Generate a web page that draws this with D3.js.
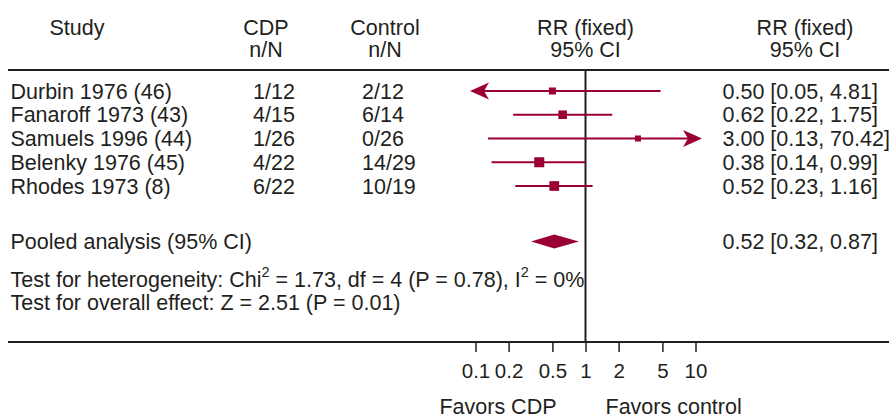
<!DOCTYPE html>
<html>
<head>
<meta charset="utf-8">
<script src="https://cdn.jsdelivr.net/npm/d3@7/dist/d3.min.js"></script>
<style>
  html, body { margin: 0; padding: 0; background: #fff; }
  svg text { font-family: "Liberation Sans", Arial, Helvetica, sans-serif; fill: #231f20; }
</style>
</head>
<body>
<svg id="chart" width="889" height="419"></svg>
<script>
// Trial data: relative risk of the outcome, CDP vs control
const studies = ["Durbin 1976 (46)", "Fanaroff 1973 (43)", "Samuels 1996 (44)", "Belenky 1976 (45)", "Rhodes 1973 (8)"];
const cdpCounts = ["1/12", "4/15", "1/26", "4/22", "6/22"];
const controlCounts = ["2/12", "6/14", "0/26", "14/29", "10/19"];
const rr = [0.50, 0.62, 3.00, 0.38, 0.52];
const rrLower = [0.05, 0.22, 0.13, 0.14, 0.23];
const rrUpper = [4.81, 1.75, 70.42, 0.99, 1.16];
const weights = [6.3, 19.7, 1.6, 38.3, 34.1];

const pooled = { label: "Pooled analysis (95% CI)", rr: 0.52, lower: 0.32, upper: 0.87 };

const tickValues = [0.1, 0.2, 0.5, 1, 2, 5, 10];
const tickLabels = ["0.1", "0.2", "0.5", "1", "2", "5", "10"];

const headers = {
  study: ["Study"],
  cdp: ["CDP", "n/N"],
  control: ["Control", "n/N"],
  plot: ["RR (fixed)", "95% CI"],
  est: ["RR (fixed)", "95% CI"]
};

const fmt = d3.format(".2f");

const RED = "#9b0032";
const INK = "#231f20";
const FS = 21.5;

const svg = d3.select("#chart");

// Layout
const rowY0 = 91, rowStep = 23.75;
const topRule = 70, axisY = 342;
const colStudy = 10.5, colCdp = 253, colCtrl = 362, colEst = 722.5;

const x = d3.scaleLog().domain([0.1, 10]).range([475.5, 695.5]);
const xLeft = x(0.1) - 5.5, xRight = x(10) + 6.5; // visible plotting limits
const clampX = v => Math.max(xLeft, Math.min(xRight, x(v)));

const size = d3.scaleSqrt().domain(d3.extent(weights)).range([6, 10]);

// Column headers
function header(lines, cx, anchor) {
  const t = svg.append("text").attr("text-anchor", anchor).attr("font-size", FS);
  lines.forEach((s, i) => t.append("tspan").attr("x", cx).attr("y", 35 + i * 22).text(s));
}
header(headers.study, 77, "middle");
header(headers.cdp, 266, "middle");
header(headers.control, 385, "middle");
header(headers.plot, x(1), "middle");
header(headers.est, 805, "middle");

// Rules
svg.append("line").attr("x1", 8).attr("x2", 889).attr("y1", topRule).attr("y2", topRule)
  .attr("stroke", INK).attr("stroke-width", 2);
svg.append("line").attr("x1", 8).attr("x2", 889).attr("y1", axisY).attr("y2", axisY)
  .attr("stroke", INK).attr("stroke-width", 2);
svg.append("line").attr("x1", x(1)).attr("x2", x(1)).attr("y1", topRule).attr("y2", axisY)
  .attr("stroke", INK).attr("stroke-width", 2);

// Study rows
const rows = studies.map((s, i) => ({
  study: s, cdp: cdpCounts[i], ctrl: controlCounts[i],
  rr: rr[i], lo: rrLower[i], hi: rrUpper[i], w: weights[i], y: rowY0 + i * rowStep
}));

const g = svg.append("g");
const row = g.selectAll("g.row").data(rows).join("g").attr("class", "row");

row.append("text").attr("x", colStudy).attr("y", d => d.y + 7.5).attr("font-size", FS).text(d => d.study);
row.append("text").attr("x", colCdp).attr("y", d => d.y + 7.5).attr("font-size", FS).text(d => d.cdp);
row.append("text").attr("x", colCtrl).attr("y", d => d.y + 7.5).attr("font-size", FS).text(d => d.ctrl);
row.append("text").attr("x", colEst).attr("y", d => d.y + 7.5).attr("font-size", FS)
  .text(d => `${fmt(d.rr)} [${fmt(d.lo)}, ${fmt(d.hi)}]`);

// Confidence interval lines
row.append("line")
  .attr("x1", d => clampX(d.lo) + (x(d.lo) < xLeft ? 8 : 0))
  .attr("x2", d => clampX(d.hi) - (x(d.hi) > xRight ? 8 : 0))
  .attr("y1", d => d.y).attr("y2", d => d.y)
  .attr("stroke", RED).attr("stroke-width", 2);

// Arrowheads where the interval runs off the scale
const arrowPath = "M0,0 L19,-8.5 L14,0 L19,8.5 Z";
row.filter(d => x(d.lo) < xLeft).append("path")
  .attr("d", arrowPath)
  .attr("transform", d => `translate(${xLeft},${d.y})`)
  .attr("fill", RED);
row.filter(d => x(d.hi) > xRight).append("path")
  .attr("d", arrowPath)
  .attr("transform", d => `translate(${xRight},${d.y}) scale(-1,1)`)
  .attr("fill", RED);

// Point estimates, sized by weight
row.append("rect")
  .attr("x", d => x(d.rr) - size(d.w) / 2)
  .attr("y", d => d.y - size(d.w) / 2)
  .attr("width", d => size(d.w)).attr("height", d => size(d.w))
  .attr("fill", RED);

// Pooled estimate
const py = 241.5;
svg.append("text").attr("x", colStudy).attr("y", py + 7.5).attr("font-size", FS).text(pooled.label);
svg.append("text").attr("x", colEst).attr("y", py + 7.5).attr("font-size", FS)
  .text(`${fmt(pooled.rr)} [${fmt(pooled.lower)}, ${fmt(pooled.upper)}]`);
svg.append("path")
  .attr("d", `M${x(pooled.lower)},${py} L${x(pooled.rr)},${py - 7} L${x(pooled.upper)},${py} L${x(pooled.rr)},${py + 7} Z`)
  .attr("fill", RED);

// Test statistics
const het = svg.append("text").attr("x", colStudy).attr("y", 286.5).attr("font-size", FS);
het.append("tspan").text("Test for heterogeneity: Chi");
het.append("tspan").attr("font-size", 14.5).attr("dy", -9.5).text("2");
het.append("tspan").attr("dy", 9.5).text(" = 1.73, df = 4 (P = 0.78), I");
het.append("tspan").attr("font-size", 14.5).attr("dy", -9.5).text("2");
het.append("tspan").attr("dy", 9.5).text(" = 0%");
svg.append("text").attr("x", colStudy).attr("y", 309.5).attr("font-size", FS)
  .text("Test for overall effect: Z = 2.51 (P = 0.01)");

// Log axis
const axis = d3.axisBottom(x)
  .tickValues(tickValues)
  .tickFormat((d, i) => tickLabels[i])
  .tickSize(10)
  .tickPadding(11);
const ax = svg.append("g").attr("transform", `translate(0,${axisY})`).call(axis);
ax.select(".domain").remove();
ax.selectAll(".tick line").attr("stroke", INK).attr("stroke-width", 1.5);
ax.selectAll(".tick text").attr("font-size", 20.5).attr("font-family", null).attr("fill", INK);

// Direction labels
svg.append("text").attr("x", x(1) - 29).attr("y", 414).attr("text-anchor", "end")
  .attr("font-size", FS).text("Favors CDP");
svg.append("text").attr("x", x(1) + 20).attr("y", 414).attr("text-anchor", "start")
  .attr("font-size", FS).text("Favors control");
</script>
</body>
</html>
